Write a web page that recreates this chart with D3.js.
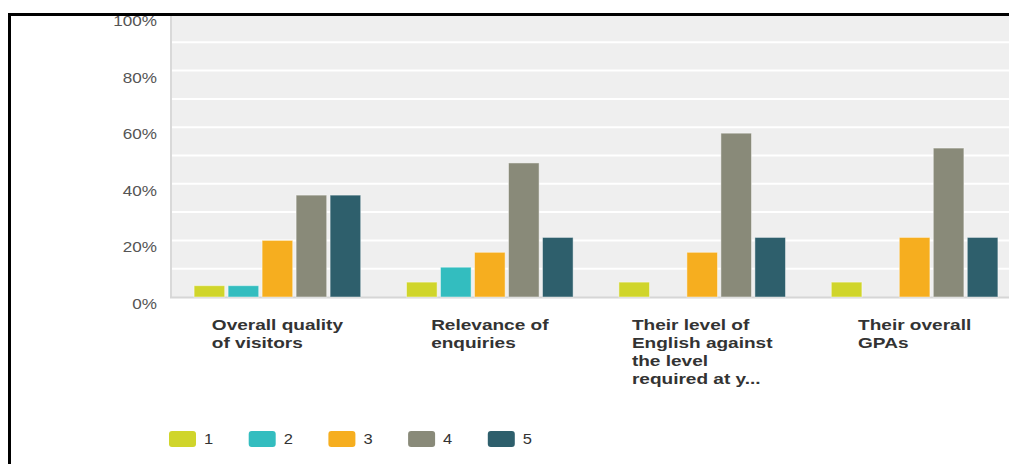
<!DOCTYPE html>
<meta charset="utf-8">
<style>
 body { margin: 0; background: #fff; }
 svg { display: block; }
 .tick-label { font-family: "Liberation Sans", Arial, sans-serif; font-size: 15px; fill: #555; }
 .cat-label { font-family: "Liberation Sans", Arial, sans-serif; font-size: 15px; font-weight: bold; fill: #333; }
 .legend-label { font-family: "Liberation Sans", Arial, sans-serif; font-size: 15px; fill: #333; }
</style>
<body>
<div id="chart"></div>
<script src="https://cdn.jsdelivr.net/npm/d3@7"></script>
<script>
var categories = ["Overall quality of visitors", "Relevance of enquiries",
  "Their level of English against the level required at y...", "Their overall GPAs"];
var categoryLines = [
  ["Overall quality", "of visitors"],
  ["Relevance of", "enquiries"],
  ["Their level of", "English against", "the level", "required at y..."],
  ["Their overall", "GPAs"]
];
var series = ["1", "2", "3", "4", "5"];
var colors = ["#d0d52b", "#33bdbf", "#f6ae1f", "#898a79", "#2e5f6c"];
// percent of responses per category, one array per series
var s1 = [4, 5.26, 5.26, 5.26];
var s2 = [4, 10.53, 0, 0];
var s3 = [20, 15.79, 15.79, 21.05];
var s4 = [36, 47.37, 57.89, 52.63];
var s5 = [36, 21.05, 21.05, 21.05];
var yTicks = [0, 20, 40, 60, 80, 100];
var values = [s1, s2, s3, s4, s5];

(function(){
  var width = 1009, height = 464;
  var plotLeft = 172, plotTop = 14, plotBottom = 297;

  var svg = d3.select("#chart").append("svg")
      .attr("width", width).attr("height", height);

  var y = d3.scaleLinear().domain([0, 100]).range([plotBottom, plotTop]);
  var x0 = d3.scaleBand().domain(categories).range([171.3, 1020.9]);
  var x1 = d3.scaleBand().domain(series).range([22.8, 189.4]).paddingInner(0.1);
  var color = d3.scaleOrdinal().domain(series).range(colors);

  // plot background
  svg.append("rect")
      .attr("x", plotLeft).attr("y", plotTop)
      .attr("width", width - plotLeft).attr("height", plotBottom - plotTop)
      .attr("fill", "#efefef");

  // gridlines every 10%
  svg.append("g").selectAll("line")
      .data(d3.range(10, 101, 10))
      .enter().append("line")
      .attr("x1", plotLeft).attr("x2", width)
      .attr("y1", function(d) { return y(d); })
      .attr("y2", function(d) { return y(d); })
      .attr("stroke", "#fff").attr("stroke-width", 2);

  // axis lines
  svg.append("line")
      .attr("x1", plotLeft - 1).attr("x2", plotLeft - 1)
      .attr("y1", plotTop).attr("y2", plotBottom + 1)
      .attr("stroke", "#d9d9d9").attr("stroke-width", 2);
  svg.append("line")
      .attr("x1", plotLeft - 2).attr("x2", width)
      .attr("y1", plotBottom + 0.5).attr("y2", plotBottom + 0.5)
      .attr("stroke", "#d6d6d6").attr("stroke-width", 2);

  // y tick labels
  svg.append("g").selectAll("text")
      .data(yTicks)
      .enter().append("text")
      .attr("class", "tick-label")
      .attr("text-anchor", "end")
      .attr("transform", function(d) {
        return "translate(157," + (y(d) + 12) + ") scale(1.14,1)";
      })
      .text(function(d) { return d + "%"; });

  // bars
  var groups = svg.append("g").selectAll("g")
      .data(categories)
      .enter().append("g")
      .attr("transform", function(d) { return "translate(" + x0(d) + ",0)"; });

  groups.selectAll("rect")
      .data(function(d, ci) {
        return series.map(function(s, si) { return {key: s, value: values[si][ci]}; })
          .filter(function(e) { return e.value > 0; });
      })
      .enter().append("rect")
      .attr("x", function(d) { return x1(d.key); })
      .attr("y", function(d) { return y(d.value); })
      .attr("width", x1.bandwidth())
      .attr("height", function(d) { return plotBottom - y(d.value); })
      .attr("fill", function(d) { return color(d.key); })
      .attr("stroke", "rgba(255,255,255,0.45)")
      .attr("stroke-width", 1);

  // category labels, left-aligned block centred on the group
  var sx = 1.27;
  categories.forEach(function(c, i) {
    var g = svg.append("g");
    var t = g.selectAll("text")
        .data(categoryLines[i])
        .enter().append("text")
        .attr("class", "cat-label")
        .attr("x", 0)
        .attr("y", function(d, j) { return j * 18; })
        .text(function(d) { return d; });
    var maxW = d3.max(t.nodes(), function(n) { return n.getComputedTextLength(); });
    var cx = x0(c) + x0.bandwidth() / 2;
    g.attr("transform", "translate(" + (cx - maxW * sx / 2) + ",330) scale(" + sx + ",1)");
  });

  // legend
  var legend = svg.append("g").selectAll("g")
      .data(series)
      .enter().append("g")
      .attr("transform", function(d, i) { return "translate(" + (169 + i * 79.7) + ",431)"; });
  legend.append("rect")
      .attr("width", 27).attr("height", 16).attr("rx", 3)
      .attr("fill", function(d) { return color(d); });
  legend.append("text")
      .attr("class", "legend-label")
      .attr("transform", "translate(35,12.5) scale(1.1,1)")
      .text(function(d) { return d; });

  // frame lines (top and left)
  svg.append("line")
      .attr("x1", 8).attr("x2", width).attr("y1", 14.5).attr("y2", 14.5)
      .attr("stroke", "#000").attr("stroke-width", 3);
  svg.append("line")
      .attr("x1", 9.5).attr("x2", 9.5).attr("y1", 13).attr("y2", height)
      .attr("stroke", "#000").attr("stroke-width", 3);
})();
</script>
</body>
